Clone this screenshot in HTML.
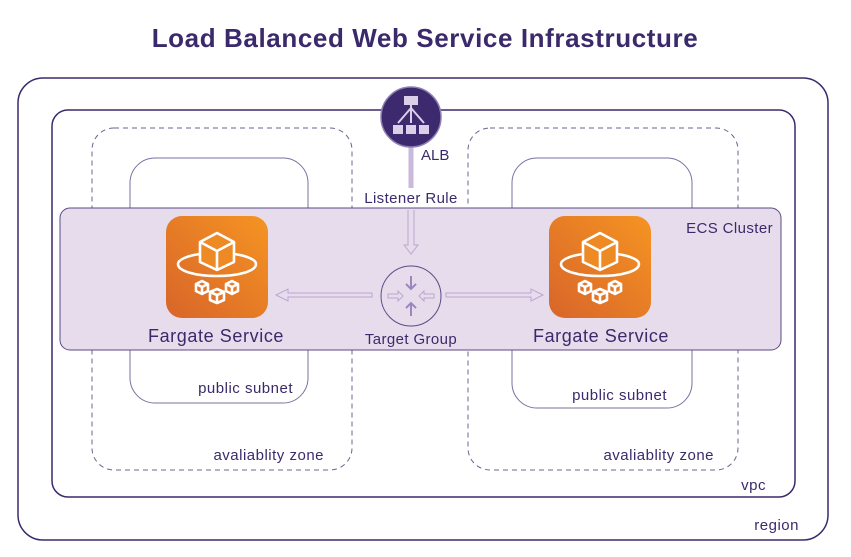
<!DOCTYPE html>
<html><head><meta charset="utf-8"><style>
html,body{margin:0;padding:0;background:#fff;}
svg text{font-family:"Liberation Sans",sans-serif;fill:#3b2a6b;}
</style></head><body>
<svg width="851" height="552" viewBox="0 0 851 552" xmlns="http://www.w3.org/2000/svg">
<defs>
<linearGradient id="og" x1="0" y1="1" x2="1" y2="0">
<stop offset="0" stop-color="#d8652a"/><stop offset="1" stop-color="#f59422"/>
</linearGradient>
<g id="farg">
<rect x="0" y="0" width="102" height="102" rx="16" fill="url(#og)"/>
<g fill="none" stroke="#fff" stroke-width="2.6" stroke-linejoin="round">
<path d="M34 38 C20 40 12 44 12 48 C12 55 29 60 51 60 C73 60 90 55 90 48 C90 44 82 40 68 38"/>
<path d="M34 26 L51 17 L68 26 L68 46 L51 54 L34 46 Z" fill="#ee8a24"/>
<path d="M34 26 L51 35 L68 26 M51 35 L51 54"/>
<path d="M30 68 l6 -3 l6 3 v7 l-6 3 l-6 -3 z M30 68 l6 3 l6 -3 M36 71 v7"/>
<path d="M44 76 l7 -3 l7 3 v8 l-7 3 l-7 -3 z M44 76 l7 3 l7 -3 M51 79 v8"/>
<path d="M60 68 l6 -3 l6 3 v7 l-6 3 l-6 -3 z M60 68 l6 3 l6 -3 M66 71 v7"/>
</g>
</g>
</defs>
<text x="425" y="47" text-anchor="middle" font-size="26" font-weight="bold" letter-spacing="0.6" style="fill:#3b2a6b">Load Balanced Web Service Infrastructure</text>
<rect x="18" y="78" width="810" height="462" rx="25" fill="none" stroke="#3b2a6b" stroke-width="1.5"/>
<rect x="52" y="110" width="743" height="387" rx="16" fill="none" stroke="#3b2a6b" stroke-width="1.5"/>
<rect x="92" y="128" width="260" height="342" rx="22" fill="none" stroke="#6f6190" stroke-width="1" stroke-dasharray="5,4"/>
<rect x="468" y="128" width="270" height="342" rx="22" fill="none" stroke="#6f6190" stroke-width="1" stroke-dasharray="5,4"/>
<rect x="130" y="158" width="178" height="245" rx="25" fill="none" stroke="#7d6fa0" stroke-width="1"/>
<rect x="512" y="158" width="180" height="250" rx="25" fill="none" stroke="#7d6fa0" stroke-width="1"/>
<g font-size="15" letter-spacing="0.5">
<text x="293" y="393" text-anchor="end">public subnet</text>
<text x="667" y="400" text-anchor="end">public subnet</text>
<text x="324" y="460" text-anchor="end">avaliablity zone</text>
<text x="714" y="460" text-anchor="end">avaliablity zone</text>
<text x="766" y="490" text-anchor="end">vpc</text>
<text x="799" y="530" text-anchor="end">region</text>
</g>
<rect x="60" y="208" width="721" height="142" rx="10" fill="#e6dcec" stroke="#5b4a85" stroke-width="1"/>
<text x="773" y="233" text-anchor="end" font-size="15" letter-spacing="0.4">ECS Cluster</text>
<line x1="411" y1="145" x2="411" y2="188" stroke="#c9b9dc" stroke-width="5"/>
<text x="411" y="203" text-anchor="middle" font-size="15" letter-spacing="0.4">Listener Rule</text>
<path d="M408 210 V245 H404 L411 254 L418 245 H414 V210" fill="none" stroke="#b9a8d2" stroke-width="1"/>
<circle cx="411" cy="117" r="30" fill="#3d2a6e" stroke="#8f7fb3" stroke-width="1.5"/>
<g fill="#d9cfe8" stroke="#d9cfe8">
<rect x="404" y="96" width="14" height="9" stroke="none"/>
<rect x="393" y="125" width="10" height="9" stroke="none"/>
<rect x="406" y="125" width="10" height="9" stroke="none"/>
<rect x="419" y="125" width="10" height="9" stroke="none"/>
<path d="M411 105 V123 M411 108 L398 123 M411 108 L424 123" fill="none" stroke-width="2"/>
</g>
<text x="421" y="160" font-size="15">ALB</text>
<circle cx="411" cy="296" r="30" fill="none" stroke="#5b4a85" stroke-width="1"/>
<g fill="none" stroke="#9b86c0" stroke-width="2">
<path d="M411 276 V289 M406 284 L411 289 L416 284"/>
<path d="M411 316 V303 M406 308 L411 303 L416 308"/>
</g>
<g fill="none" stroke="#b9a8d2" stroke-width="1">
<path d="M388 294 H398 V291 L403 296 L398 301 V298 H388 Z"/>
<path d="M434 294 H424 V291 L419 296 L424 301 V298 H434 Z"/>
<path d="M372 293 H288 V289 L276 295 L288 301 V297 H372 Z"/>
<path d="M446 293 H531 V289 L543 295 L531 301 V297 H446 Z"/>
</g>
<text x="411" y="344" text-anchor="middle" font-size="15" letter-spacing="0.4">Target Group</text>
<use href="#farg" x="166" y="216"/>
<use href="#farg" x="549" y="216"/>
<text x="216" y="342" text-anchor="middle" font-size="18" letter-spacing="0.6">Fargate Service</text>
<text x="601" y="342" text-anchor="middle" font-size="18" letter-spacing="0.6">Fargate Service</text>
</svg>
</body></html>
